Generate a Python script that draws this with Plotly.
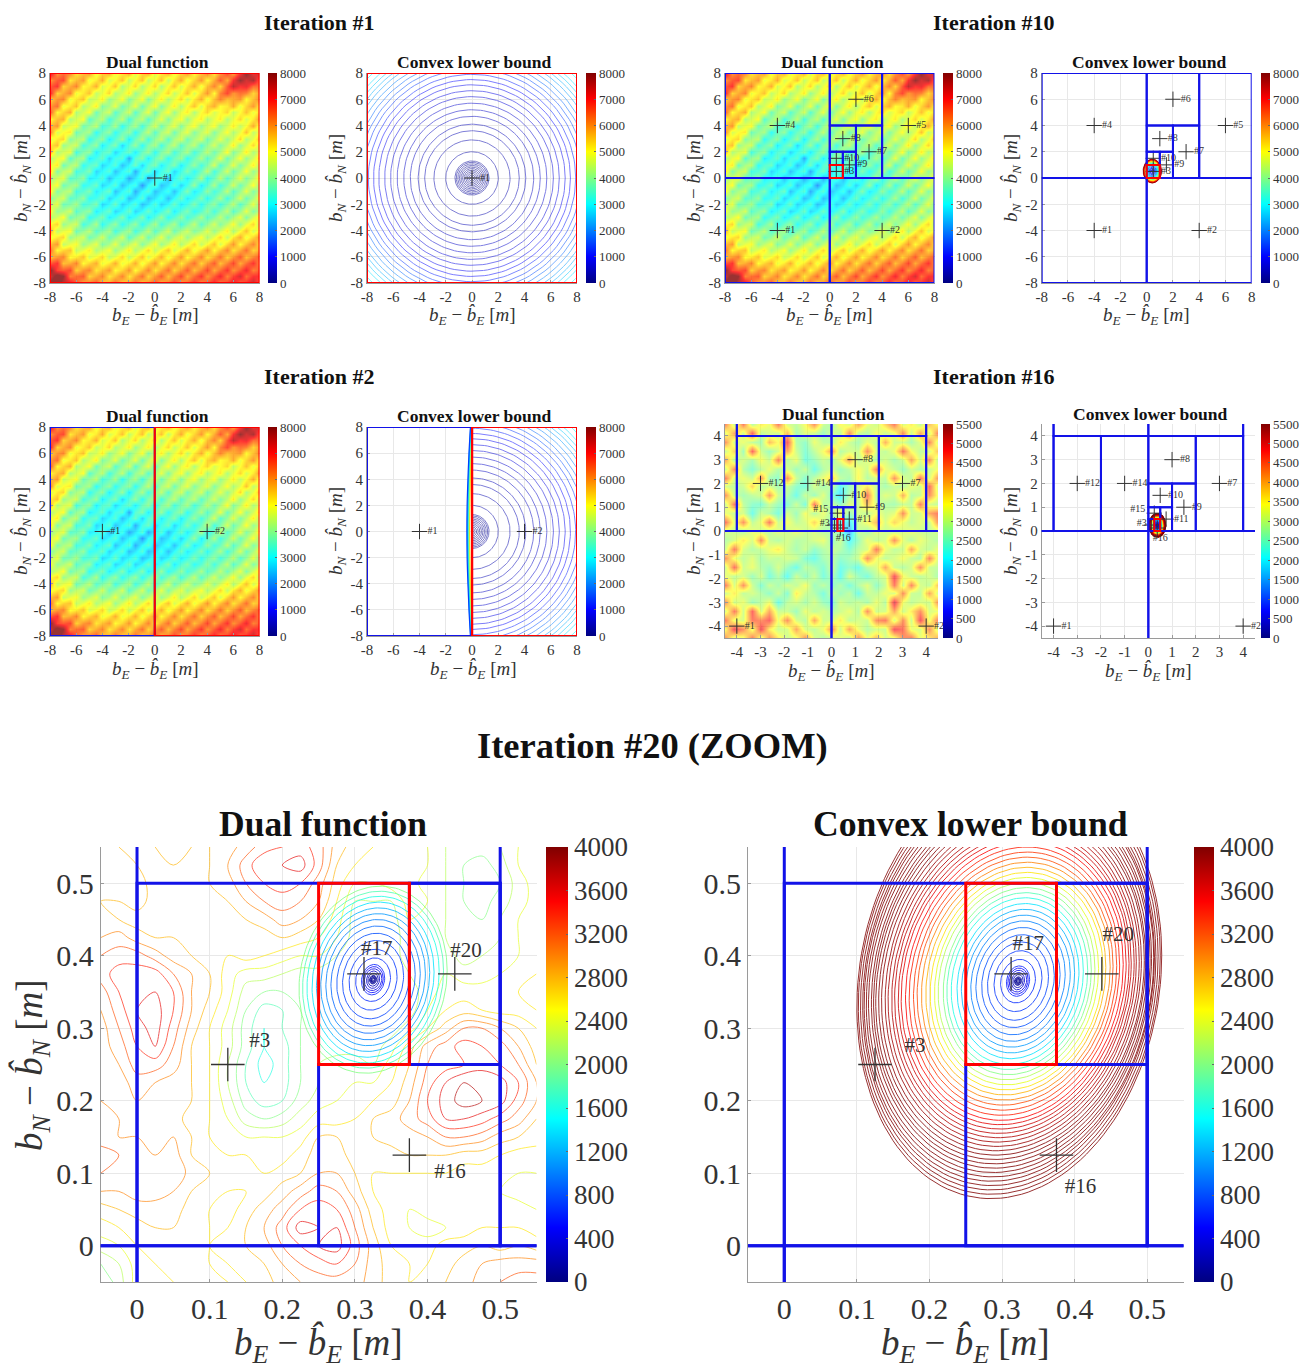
import numpy as np
import plotly.graph_objects as go

W, H = 1303, 1368
FONT = "Liberation Serif"
BLUE, RED = "#1212e8", "#ff0000"
JET = [[0, "#000080"], [0.125, "#0000ff"], [0.375, "#00ffff"], [0.625, "#ffff00"], [0.875, "#ff0000"], [1, "#800000"]]

# ---------- tick labels ----------
ticks_8 = [-8, -6, -4, -2, 0, 2, 4, 6, 8]
ticks_4 = [-4, -3, -2, -1, 0, 1, 2, 3, 4]
ticks_z = [0, 0.1, 0.2, 0.3, 0.4, 0.5]
labels_z = ["0", "0.1", "0.2", "0.3", "0.4", "0.5"]
cb_8000 = [0, 1000, 2000, 3000, 4000, 5000, 6000, 7000, 8000]
cb_5500 = [0, 500, 1000, 1500, 2000, 2500, 3000, 3500, 4000, 4500, 5000, 5500]
cb_4000 = [0, 400, 800, 1200, 1600, 2000, 2400, 2800, 3200, 3600, 4000]

# ---------- dual function, +/-8 m, 0.5 m grid, hundreds, top row y=8 ----------
dual8_x = [-8 + 0.5 * i for i in range(33)]
dual8_y = [8 - 0.5 * i for i in range(33)]
dual8_shift = 4  # calibration of the eye-read table against the colour bar, in hundreds
dual8_z = [
[72,56,60,58,48,52,56,44,50,54,44,48,54,42,50,54,42,48,54,44,50,56,46,52,58,48,56,64,54,66,78,68,72],
[56,62,64,48,52,56,44,48,54,42,46,52,40,46,52,40,46,52,40,48,54,44,50,56,46,54,62,54,66,76,70,74,60],
[62,66,50,54,58,46,48,54,42,46,52,38,44,50,38,44,50,38,46,52,42,48,54,44,52,58,50,62,72,66,68,60,60],
[68,50,54,58,44,48,52,40,44,50,38,42,48,36,42,48,38,44,50,40,46,52,42,50,56,46,58,64,56,60,58,50,56],
[50,56,58,44,48,52,40,42,48,36,40,46,34,40,46,34,42,48,38,44,50,40,48,54,44,52,58,52,54,56,46,52,58],
[56,60,44,48,52,38,42,48,34,38,44,32,38,44,32,40,46,34,42,48,38,46,52,42,50,54,46,48,54,44,50,56,46],
[62,46,50,54,38,42,46,32,38,42,30,36,42,30,38,44,32,40,46,36,44,48,38,46,50,42,46,50,40,46,52,44,50],
[46,52,54,38,42,46,30,36,40,28,34,40,28,36,40,30,38,44,34,42,46,36,44,48,38,44,48,38,44,50,42,48,56],
[52,56,40,44,46,32,36,40,28,32,38,26,34,38,28,36,42,32,40,44,34,42,46,36,42,46,36,42,48,40,46,54,42],
[58,42,46,48,32,36,38,26,32,36,26,32,36,26,34,40,30,38,42,32,40,44,34,40,44,34,40,46,38,44,52,40,46],
[42,48,50,34,38,40,26,32,36,24,30,36,24,32,38,28,36,40,30,38,42,32,38,42,32,38,44,36,42,50,38,44,52],
[48,52,36,40,42,28,32,36,24,30,34,22,30,36,26,34,38,28,36,40,30,36,40,30,36,42,34,40,48,36,42,50,40],
[54,38,42,44,28,34,36,24,30,32,22,28,32,24,32,36,26,34,38,28,34,38,28,34,40,32,38,46,34,40,48,38,44],
[38,44,46,30,36,38,24,28,32,22,28,30,18,30,34,24,32,36,26,32,36,26,32,38,30,36,44,32,38,46,36,42,50],
[44,48,32,38,40,26,30,32,22,26,30,20,26,32,22,30,34,24,30,34,24,30,36,28,34,42,30,36,44,34,40,48,38],
[50,34,40,42,28,30,34,22,26,30,20,26,30,18,28,32,22,28,32,22,28,34,26,32,40,28,34,42,32,38,46,36,42],
[36,42,44,30,32,36,24,26,30,20,26,28,18,24,30,18,26,30,20,26,32,24,30,38,26,32,40,30,36,44,34,40,48],
[42,46,32,36,38,26,28,32,22,26,30,20,26,28,16,26,30,20,24,30,22,28,36,24,30,38,28,34,42,32,38,46,36],
[48,34,38,40,28,30,34,24,28,32,20,26,30,18,26,30,20,24,28,20,28,34,24,28,36,28,32,40,30,36,44,34,40],
[34,40,42,30,32,36,26,28,32,22,26,30,20,24,30,20,24,28,20,26,32,24,28,34,26,32,38,28,34,42,32,38,46],
[40,44,32,34,38,28,30,34,22,26,32,22,26,30,20,24,30,22,26,32,24,28,34,26,32,36,28,34,40,30,36,44,34],
[46,36,38,42,30,34,36,24,28,32,22,26,32,22,26,32,24,28,34,24,30,34,26,30,36,28,34,40,30,36,44,34,40],
[38,42,46,32,36,38,26,30,34,24,28,34,24,28,34,24,30,36,26,30,36,28,32,38,30,34,40,32,38,44,34,42,48],
[46,50,36,40,42,28,32,38,26,32,36,26,32,36,26,32,38,28,34,38,28,34,40,30,36,42,34,40,46,36,44,50,38],
[54,40,44,46,32,36,40,30,34,38,28,34,38,28,34,40,30,36,42,32,38,42,34,38,44,36,42,48,38,46,52,42,48],
[44,48,50,36,40,42,32,36,42,32,36,42,30,36,42,32,38,44,34,40,44,36,42,46,38,44,50,40,48,54,44,50,56],
[52,56,40,44,46,36,40,44,34,38,44,34,40,44,34,40,46,36,42,48,38,44,50,40,46,52,42,50,56,46,52,58,48],
[60,46,50,52,40,44,48,38,42,46,36,42,48,38,44,50,40,46,52,42,48,54,44,50,56,46,52,58,48,54,60,50,54],
[52,56,58,46,48,52,42,46,50,40,44,50,40,46,52,42,48,54,44,50,56,46,52,58,48,54,60,50,56,62,52,58,62],
[62,66,52,54,58,46,50,54,44,48,54,44,48,54,44,50,56,46,52,58,48,54,60,50,56,62,52,58,64,54,60,66,56],
[78,64,62,64,50,56,58,48,52,56,46,50,56,46,52,58,48,54,60,50,56,62,52,58,64,54,60,66,56,62,68,58,62],
[70,80,76,58,60,62,50,54,58,48,52,58,48,54,60,50,56,62,52,58,64,54,60,66,56,62,68,58,64,70,60,66,66],
[78,84,72,70,62,54,58,62,50,54,60,50,54,60,50,56,62,52,58,64,54,60,66,56,62,68,58,64,70,60,66,72,60],
]

# ---------- dual function, +/-4.5 m, 0.375 m grid, hundreds, top row y=4.5 ----------
dual4_x = [-4.5 + 0.375 * i for i in range(25)]
dual4_y = [4.5 - 0.375 * i for i in range(25)]
dual4_z = [
[45,30,46,28,36,33,46,31,29,34,44,30,27,35,31,42,33,30,38,46,31,36,29,40,33],
[32,42,30,48,29,31,30,40,27,32,30,26,31,29,44,30,28,34,30,33,44,30,42,31,46],
[44,31,33,29,27,40,34,49,28,25,33,29,28,36,30,27,33,29,41,30,31,27,32,45,30],
[30,38,26,48,30,26,31,42,30,24,29,34,43,28,31,30,44,31,29,33,46,34,29,31,40],
[42,29,31,27,34,30,45,28,33,23,26,30,27,33,42,29,32,28,31,27,30,42,31,44,28],
[30,44,28,24,29,33,28,31,26,30,22,28,31,26,29,34,30,45,33,30,26,31,28,30,34],
[46,31,33,30,43,27,25,44,30,24,29,33,38,29,27,35,28,31,29,44,31,29,46,31,44],
[31,29,30,38,28,31,27,30,25,23,31,27,30,20,26,31,36,30,27,30,28,33,30,47,30],
[44,30,27,29,31,43,30,28,22,30,26,32,24,18,28,30,46,28,32,30,41,28,30,44,33],
[30,46,29,25,24,30,26,24,30,23,46,28,30,25,32,30,40,31,28,27,30,29,45,31,29],
[33,30,31,22,30,28,23,31,26,34,28,33,27,36,26,31,29,34,30,32,44,30,31,42,46],
[47,32,44,29,33,46,30,34,29,31,38,30,26,22,18,30,34,40,31,38,33,29,32,30,44],
[31,30,28,33,30,29,32,30,33,30,31,28,29,24,14,30,27,32,30,29,31,33,30,29,31],
[28,31,36,31,44,30,28,31,28,29,31,33,26,30,20,26,33,29,31,44,32,28,33,30,28],
[30,46,31,28,30,33,36,30,27,30,25,28,30,28,24,29,31,46,33,29,30,42,31,29,33],
[44,33,29,32,27,30,29,31,30,24,22,27,29,25,27,30,44,34,29,31,34,30,28,45,31],
[30,47,30,33,28,26,31,26,22,29,27,24,30,22,25,22,29,31,42,30,28,31,44,30,29],
[33,29,31,26,31,23,28,21,30,25,30,23,28,21,31,26,23,29,31,50,34,30,29,31,27],
[46,31,44,30,24,30,27,31,29,34,26,29,25,28,23,28,32,25,30,46,30,45,31,29,40],
[30,36,29,31,28,25,30,24,36,30,28,23,30,26,29,22,30,29,33,31,44,30,29,42,30],
[44,30,33,26,29,33,22,29,31,27,31,26,24,31,28,30,27,33,28,52,33,29,31,30,44],
[31,46,30,48,31,42,30,30,26,33,29,31,28,30,33,28,44,30,31,42,30,36,44,31,33],
[46,33,31,46,44,48,33,44,31,28,42,30,31,36,29,31,30,44,46,31,44,30,50,33,46],
[34,50,44,33,50,36,30,31,42,31,29,33,44,30,42,33,28,31,30,50,46,33,31,44,30],
[44,31,33,46,31,44,36,30,33,44,31,28,30,33,29,44,33,40,31,33,44,46,33,36,42],
]

# ---------- dual function, zoom, 0.025 m grid, hundreds, top row y=0.55 ----------
dualz_x = [-0.05 + 0.025 * i for i in range(25)]
dualz_y = [0.55 - 0.025 * i for i in range(25)]
dualz_z = [
[29,28,28,28,29,28,28,29,31,33,34,35,33,29,27,26,25,25,24,22,22,21,22,24,25],
[29,29,28,28,28,28,28,30,33,36,36,37,33,28,26,26,26,25,24,22,20,19,21,24,25],
[29,29,29,27,27,28,28,29,32,34,35,34,31,27,24,24,25,25,23,22,20,18,20,23,25],
[28,28,29,27,27,27,28,28,30,32,33,32,30,26,22,22,22,25,24,22,20,19,21,23,25],
[29,28,27,27,27,26,27,28,28,29,31,30,28,25,21,21,21,24,24,22,21,20,22,24,25],
[30,31,29,28,28,27,27,27,27,27,28,27,26,24,21,21,21,23,23,22,21,21,22,24,25],
[32,33,33,31,29,28,28,26,27,26,25,24,24,22,21,21,21,23,24,23,21,22,23,24,26],
[33,35,35,35,32,30,28,25,23,23,22,21,21,21,21,21,21,22,24,24,23,23,24,25,26],
[31,34,36,36,34,30,28,25,21,20,20,21,21,21,21,21,21,21,23,25,25,25,25,26,27],
[30,33,36,37,34,30,27,24,20,17,18,20,21,21,21,21,21,21,24,26,27,26,25,25,26],
[29,32,35,37,33,29,26,23,19,16,18,20,21,21,21,21,21,23,26,29,32,32,30,28,26],
[29,31,34,36,32,28,26,23,19,16,17,20,22,21,21,21,23,27,31,33,35,34,33,30,27],
[28,30,33,33,31,28,26,22,18,15,17,20,22,23,23,22,25,28,32,33,34,35,34,32,28],
[29,29,31,30,29,28,26,22,18,16,17,20,22,24,24,24,26,29,33,36,38,38,37,34,30],
[30,30,30,29,29,28,26,23,19,17,18,21,23,24,25,26,27,30,34,37,39,38,37,33,30],
[31,30,29,29,29,27,26,24,21,20,21,23,25,25,26,28,29,31,33,36,36,35,33,31,28],
[31,30,30,29,30,28,26,25,24,24,24,25,28,28,27,28,29,29,30,32,32,31,29,28,27],
[33,32,31,30,31,28,27,26,26,25,25,27,29,29,27,27,27,28,28,28,27,27,26,25,25],
[32,31,30,32,32,29,28,28,27,26,27,28,30,30,28,26,26,26,26,26,25,25,25,24,24],
[30,30,31,31,30,28,27,26,26,27,29,31,33,32,29,26,25,25,25,25,25,25,24,23,23],
[27,28,29,29,29,27,26,25,27,29,31,34,35,34,31,27,25,24,25,25,25,26,26,25,24],
[25,26,27,28,28,27,26,26,28,30,33,37,36,36,32,28,25,24,23,24,25,26,26,26,25],
[23,24,26,27,27,27,26,27,28,29,32,34,36,37,33,29,26,25,25,27,27,28,27,28,27],
[20,22,25,26,27,27,26,26,27,28,30,32,33,34,32,29,27,26,26,27,29,30,31,31,31],
[18,21,25,26,26,27,28,26,26,27,29,30,31,31,31,29,27,26,27,28,29,31,32,33,33],
]

# ---------- convex lower bound level curves ----------
it1_radius = [.12,.24,.36,.48,.6,.72,.84,.96,1.08,1.2,1.3,2.0,2.9,3.6,4.1,4.7,5.2,5.7,6.2,6.65,7.1,7.5,7.9,8.3,8.65,9.0,9.35,9.7,10.0,10.3,10.6,11.0]
it1_level = [50,60,70,80,90,100,120,140,160,180,200,300,350,400,450,500,550,600,700,800,900,1000,1200,1400,1600,1800,2000,2200,2400,2600,2800,3000]
wall_y = [-8, -6, -4, -2, 0, 2, 4, 6, 8]
wall_levels = [7000, 5500, 4500, 3500, 2500, 1500]
wall_x = [
[.05,.05,.05,.05,.05,.05,.05,.05,.05],
[-.02,-.08,-.13,-.16,-.18,-.16,-.13,-.08,-.02],
[-.05,-.12,-.18,-.22,-.24,-.22,-.18,-.12,-.05],
[-.08,-.16,-.23,-.27,-.29,-.27,-.23,-.16,-.08],
[-.1,-.2,-.27,-.32,-.34,-.32,-.27,-.2,-.1],
[-.12,-.23,-.31,-.37,-.39,-.37,-.31,-.23,-.12],
]
it10_level = [300,600,1000,1400,1800,2200,2600,3000,3400,3800,4200,4600,5000,5400,5800,6200,6600,7000,7400,7800]
it10_semi_y = [.06,.13,.22,.3,.38,.45,.51,.56,.61,.65,.69,.72,.75,.78,.81,.83,.85,.87,.89,.91]
it10_semi_x = [.05,.1,.17,.23,.29,.34,.39,.43,.47,.5,.53,.55,.57,.59,.61,.63,.65,.66,.68,.7]
it16_level = [200,400,700,1000,1300,1600,1900,2200,2500,2800,3100,3400,3700,4000,4200,4400,4600,4800,5000,5100,5200,5300,5400,5500]
it16_semi_y = [.05,.08,.12,.16,.2,.23,.26,.29,.31,.33,.35,.37,.385,.4,.41,.42,.43,.44,.45,.46,.47,.48,.49,.5]
it16_semi_x = [.035,.055,.085,.11,.14,.16,.18,.2,.22,.23,.245,.26,.27,.28,.29,.295,.3,.31,.32,.325,.33,.34,.345,.35]
zoom_level = [50,60,70,80,100,200,300,400,500,600,650,700,750,800,900,1000,1100,1200,1400,1600,1800,2000,2200,2400,2600,2800,3000,3200,3300,3400,3500,3600,3700,3750,3800,3850,3900,3950,4000,4000,4000,4000,4000,4000,4000,4000,4000,4000,4000]
zoom_semi_y = [.002,.003,.004,.005,.006,.009,.012,.015,.018,.021,.03,.042,.054,.064,.074,.083,.091,.099,.107,.115,.122,.129,.136,.143,.15,.157,.164,.171,.178,.185,.192,.198,.204,.21,.216,.222,.228,.234,.24,.246,.252,.258,.264,.27,.276,.282,.288,.294,.30]
zoom_semi_x = [.0015,.0025,.003,.004,.005,.007,.009,.012,.014,.016,.024,.033,.042,.05,.058,.065,.072,.078,.084,.091,.097,.102,.108,.113,.119,.124,.13,.135,.14,.145,.15,.155,.159,.163,.167,.171,.175,.179,.183,.186,.189,.192,.195,.198,.2,.202,.205,.208,.21]
zoom_centre_x = [.322,.322,.322,.322,.322,.322,.322,.322,.322,.322,.322,.322,.322,.322,.322,.322,.322,.322,.322,.321,.321,.321,.32,.32,.32,.319,.319,.318,.318,.317,.317,.316,.316,.315,.315,.314,.314,.313,.313,.312,.312,.312,.311,.311,.31,.31,.31,.31,.31]

# ---------- subdivision boxes (x0, y0, x1, y1) ----------
it2_blue = [(-8, -8, 0, 8)]
it2_red = [(0, -8, 8, 8)]
it10_blue = [(-8,0,0,8),(-8,-8,0,0),(0,-8,8,0),(4,0,8,8),(0,4,4,8),(2,0,4,4),(0,2,2,4),(1,0,2,2),(0,1,1,2)]
it10_red = [(0,0,1,1)]
it16_blue = [(-8,-8,0,0),(0,-8,8,0),(-8,0,-4,8),(4,0,8,8),(-4,4,0,8),(0,4,4,8),(-4,0,-2,4),(-2,0,0,4),(0,2,2,4),(2,0,4,4),(1,0,2,2),(0,1,1,2),(.5,0,1,1),(0,.5,.5,1),(0,0,.25,.5)]
it16_red = [(.25,0,.5,.5)]
zoom_blue = [(-1,-1,0,0),(-1,0,0,1),(0,0,.5,.5),(.5,0,1,1),(.25,0,.5,.25),(.375,.25,.5,.5),(0,-1,1,0)]
zoom_red = [(.25,.25,.375,.5)]

# ---------- centre markers and their labels ----------
it10_pts = [(-4,-4,"#1"),(4,-4,"#2"),(.5,.5,"#3"),(-4,4,"#4"),(6,4,"#5"),(2,6,"#6"),(3,2,"#7"),(1,3,"#8"),(1.5,1,"#9"),(.5,1.5,"#10")]
it16_pts = [(-4,-4,"#1"),(4,-4,"#2"),(3,2,"#7"),(1,3,"#8"),(1.5,1,"#9"),(.5,1.5,"#10"),(.75,.5,"#11"),(-3,2,"#12"),(-1,2,"#14")]
it16_extra = [(.125,.25,-.28,.3,"#3"),(.25,.75,-.45,.92,"#15"),(.375,.125,.5,-.3,"#16")]
zoomL_pts = [(.125,.25,.169,.281,"#3"),(.3125,.375,.33,.408,"#17"),(.4375,.375,.453,.405,"#20"),(.375,.125,.431,.101,"#16")]
zoomR_pts = [(.125,.25,.18,.275,"#3"),(.3125,.375,.336,.415,"#17"),(.4375,.375,.46,.428,"#20"),(.375,.125,.408,.08,"#16")]

# ---------- helpers ----------
def jet(level, zmax):
    v = min(max(level / zmax, 0), 1)
    for (a, ca), (b, cb) in zip(JET[:-1], JET[1:]):
        if v <= b:
            f = (v - a) / (b - a)
            ca = [int(ca[i:i+2], 16) for i in (1, 3, 5)]
            cb = [int(cb[i:i+2], 16) for i in (1, 3, 5)]
            return "rgb(%d,%d,%d)" % tuple(round(p + (q - p) * f) for p, q in zip(ca, cb))
    return JET[-1][1]

fig = go.Figure()
shapes, annots, layout = [], [], {}
count = 0

def txt(x, y, s, size, bold=False, angle=0):
    annots.append(dict(text=("<b>%s</b>" % s) if bold else s, x=x / W, y=1 - y / H, xref="paper", yref="paper",
                       xanchor="center", yanchor="middle", showarrow=False, textangle=angle,
                       font=dict(family=FONT, size=size, color="#111111" if bold else "#333333")))

XT = "<i>b<sub>E</sub></i> − <i>b̂<sub>E</sub></i> [<i>m</i>]"
YT = "<i>b<sub>N</sub></i> − <i>b̂<sub>N</sub></i> [<i>m</i>]"

def panel(box, rng, tickv, tickt, tfs, cb_box, cb_ticks, cb_fs, zmax, title, tpos, tfsize, xt, yt, afs, blue=(), red=(), lw=2):
    global count
    count += 1
    ax = "x%d" % count
    ay = "y%d" % count
    x0, x1, y0, y1 = box
    common = dict(range=rng, tickmode="array", tickvals=tickv, ticktext=tickt,
                  tickfont=dict(family=FONT, size=tfs, color="#333333"), showgrid=True, gridcolor="#e8e8e8",
                  gridwidth=1, zeroline=False, showline=True, linecolor="#9a9a9a", linewidth=1,
                  ticks="inside", ticklen=3, tickcolor="#9a9a9a")
    layout["xaxis%d" % count] = dict(domain=[x0 / W, x1 / W], anchor=ay, **common)
    layout["yaxis%d" % count] = dict(domain=[1 - y1 / H, 1 - y0 / H], anchor=ax, **common)
    for rects, col in ((blue, BLUE), (red, RED)):
        for r in rects:
            shapes.append(dict(type="rect", xref=ax, yref=ay, x0=r[0], y0=r[1], x1=r[2], y1=r[3],
                               line=dict(color=col, width=lw), fillcolor="rgba(0,0,0,0)", layer="above"))
    cx0, cx1 = cb_box
    fig.add_trace(go.Scatter(x=[rng[0], rng[0]], y=[rng[0], rng[0]], xaxis=ax, yaxis=ay, mode="markers", showlegend=False,
                             hoverinfo="skip",
                             marker=dict(size=0.01, color=[0, zmax], cmin=0, cmax=zmax, colorscale=JET, showscale=True,
                                         colorbar=dict(x=cx0 / W, xanchor="left", xref="paper", xpad=0, ypad=0,
                                                       y=1 - (y0 + y1) / 2 / H, yanchor="middle", yref="paper",
                                                       len=(y1 - y0) / H, lenmode="fraction",
                                                       thickness=cx1 - cx0, thicknessmode="pixels",
                                                       outlinewidth=0, tickmode="array", tickvals=cb_ticks,
                                                       ticktext=[str(v) for v in cb_ticks], ticks="inside",
                                                       ticklen=2, tickcolor="#666666",
                                                       tickfont=dict(family=FONT, size=cb_fs, color="#333333")))))
    txt(tpos[0], tpos[1], title, tfsize, True)
    txt(xt[0], xt[1], XT, afs)
    if yt:
        txt(yt[0], yt[1], YT, afs, angle=-90)
    return ax, ay

def rings(ax, ay, cx, cy, sx, sy, levels, zmax, phi=0.0, half=False, opacity=0.6, width=1):
    t = np.linspace(-np.pi / 2, np.pi / 2, 90) if half else np.linspace(0, 2 * np.pi, 140)
    centres = cx if isinstance(cx, list) else [cx] * len(sx)
    for c, a, b, lv in zip(centres, sx, sy, levels):
        fig.add_trace(go.Scatter(x=c + a * np.cos(t), y=cy + b * np.sin(t + phi), xaxis=ax, yaxis=ay, mode="lines",
                                 showlegend=False, hoverinfo="skip", opacity=opacity,
                                 line=dict(color=jet(lv, zmax), width=width)))

def heat(ax, ay, xs, ys, zs, zmax, opacity, shift=0):
    fig.add_trace(go.Heatmap(x=xs, y=ys, z=[[(v + shift) * 100 for v in row] for row in zs], xaxis=ax, yaxis=ay, zmin=0, zmax=zmax,
                             colorscale=JET, showscale=False, zsmooth="best", opacity=opacity, hoverinfo="skip"))

def marks(ax, ay, pts, size, fs, lw=1):
    fig.add_trace(go.Scatter(x=[p[0] for p in pts], y=[p[1] for p in pts], text=[p[2] for p in pts], xaxis=ax, yaxis=ay,
                             mode="markers+text", textposition="middle right", showlegend=False, hoverinfo="skip",
                             cliponaxis=False, textfont=dict(family=FONT, size=fs, color="#333333"),
                             marker=dict(symbol="cross-thin", size=size, line=dict(color="#333333", width=lw))))

def marks2(ax, ay, pts, size, fs, lw=1.3):
    fig.add_trace(go.Scatter(x=[p[0] for p in pts], y=[p[1] for p in pts], xaxis=ax, yaxis=ay, mode="markers",
                             showlegend=False, hoverinfo="skip",
                             marker=dict(symbol="cross-thin", size=size, line=dict(color="#333333", width=lw))))
    fig.add_trace(go.Scatter(x=[p[2] for p in pts], y=[p[3] for p in pts], text=[p[4] for p in pts], xaxis=ax, yaxis=ay,
                             mode="text", textposition="middle center", showlegend=False, hoverinfo="skip",
                             textfont=dict(family=FONT, size=fs, color="#333333")))

R8 = [-8, 8]
T8 = [str(v) for v in ticks_8]
R4 = [-4.5, 4.5]
T4 = [str(v) for v in ticks_4]
RZ = [-0.05, 0.55]
DUAL, CVX = "Dual function", "Convex lower bound"
TS, AS, MS, LS = 17.5, 19, 11, 10

# Iteration #1
a = panel((50, 259.5, 73, 283), R8, ticks_8, T8, 15, (268, 277), cb_8000, 13, 8000, DUAL, (157, 62), TS, (155, 316), (22, 178), AS, red=[(-8, -8, 8, 8)])
heat(*a, dual8_x, dual8_y, dual8_z, 8000, 0.8, dual8_shift)
marks(*a, [(0, 0, "#1")], MS, LS)
a = panel((367, 577, 73, 283), R8, ticks_8, T8, 15, (586, 595.5), cb_8000, 13, 8000, CVX, (474, 62), TS, (472, 316), (337, 178), AS, red=[(-8, -8, 8, 8)])
rings(*a, 0, 0, it1_radius, it1_radius, it1_level, 8000, opacity=0.5)
marks(*a, [(0, 0, "#1")], MS, LS)
# Iteration #10
a = panel((725, 934.5, 73, 283), R8, ticks_8, T8, 15, (943, 953), cb_8000, 13, 8000, DUAL, (832, 62), TS, (829, 316), (695, 178), AS, it10_blue, it10_red)
heat(*a, dual8_x, dual8_y, dual8_z, 8000, 0.8, dual8_shift)
marks(*a, it10_pts, MS, LS)
a = panel((1041.7, 1251.7, 73, 283), R8, ticks_8, T8, 15, (1260.7, 1270), cb_8000, 13, 8000, CVX, (1149, 62), TS, (1146, 316), (1012, 178), AS, it10_blue, it10_red)
rings(*a, .43, .53, it10_semi_x, it10_semi_y, it10_level, 8000, opacity=0.85, width=1)
marks(*a, it10_pts, MS, LS)
# Iteration #2
a = panel((50, 259.5, 427, 636), R8, ticks_8, T8, 15, (268, 277), cb_8000, 13, 8000, DUAL, (157, 416), TS, (155, 670), (22, 531), AS, it2_blue, it2_red)
heat(*a, dual8_x, dual8_y, dual8_z, 8000, 0.8, dual8_shift)
marks(*a, [(-4, 0, "#1"), (4, 0, "#2")], MS, LS)
a = panel((367, 577, 427, 636), R8, ticks_8, T8, 15, (586, 595.5), cb_8000, 13, 8000, CVX, (474, 416), TS, (473, 670), (337, 531), AS, it2_blue, it2_red)
rings(*a, 0, 0, it1_radius, it1_radius, it1_level, 8000, half=True, opacity=0.5)
for wx, wl in zip(wall_x, wall_levels):
    fig.add_trace(go.Scatter(x=wx, y=wall_y, xaxis=a[0], yaxis=a[1], mode="lines", showlegend=False, hoverinfo="skip",
                             line=dict(color=jet(wl, 8000), width=1.2, shape="spline")))
marks(*a, [(-4, 0, "#1"), (4, 0, "#2")], MS, LS)
# Iteration #16
a = panel((725, 938, 424, 638), R4, ticks_4, T4, 15, (943, 953), cb_5500, 13, 5500, DUAL, (834, 414), TS, (831, 672), (695, 531), AS, it16_blue, it16_red)
heat(*a, dual4_x, dual4_y, dual4_z, 5500, 0.6)
marks(*a, it16_pts, MS, LS)
marks2(*a, it16_extra, MS, LS, 1)
a = panel((1041.7, 1255, 424, 638), R4, ticks_4, T4, 15, (1260.7, 1270), cb_5500, 13, 5500, CVX, (1150, 414), TS, (1148, 672), (1012, 531), AS, it16_blue, it16_red)
rings(*a, .38, .24, it16_semi_x, it16_semi_y, it16_level, 5500, opacity=0.95, width=1.2)
marks(*a, it16_pts, MS, LS)
marks2(*a, it16_extra, MS, LS, 1)
# Iteration #20 zoom
a = panel((100.7, 536.5, 847, 1282), RZ, ticks_z, labels_z, 30, (546, 568), cb_4000, 27, 4000, DUAL, (323, 824), 35.5, (318, 1345), (32, 1065), 37, zoom_blue, zoom_red, lw=3)
fig.add_trace(go.Contour(x=dualz_x, y=dualz_y, z=[[v * 100 for v in row] for row in dualz_z], xaxis=a[0], yaxis=a[1],
                         colorscale=JET, zmin=0, zmax=4000, autocontour=False, showscale=False, hoverinfo="skip", opacity=0.65,
                         contours=dict(coloring="lines", start=0, end=4000, size=200),
                         line=dict(width=1, smoothing=1.0)))
n_well = 22
rings(*a, .325, .367, zoom_semi_x[:n_well], zoom_semi_y[:n_well], zoom_level[:n_well], 4000, phi=0.1, opacity=0.8)
marks2(*a, zoomL_pts, 24, 21)
a = panel((748, 1183.5, 847, 1282), RZ, ticks_z, labels_z, 30, (1194, 1214), cb_4000, 27, 4000, CVX, (970, 824), 35.7, (965, 1345), None, 37, zoom_blue, zoom_red, lw=3)
rings(*a, zoom_centre_x, .365, zoom_semi_x, zoom_semi_y, zoom_level, 4000, phi=0.12, opacity=0.8)
marks2(*a, zoomR_pts, 24, 21)

txt(319, 22, "Iteration #1", 22, True)
txt(994, 22, "Iteration #10", 22, True)
txt(319, 376, "Iteration #2", 22, True)
txt(994, 376, "Iteration #16", 22, True)
txt(652, 746, "Iteration #20 (ZOOM)", 36.5, True)

fig.update_layout(width=W, height=H, autosize=False, margin=dict(l=0, r=0, t=0, b=0, autoexpand=False), paper_bgcolor="white",
                  plot_bgcolor="white", showlegend=False, shapes=shapes, annotations=annots, **layout)
fig.write_html("out.html", config={"displayModeBar": False}, post_script="document.body.style.margin='0';")
